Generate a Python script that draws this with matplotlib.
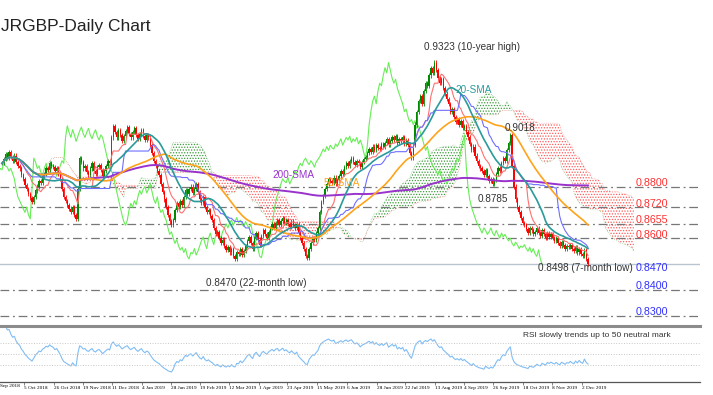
import numpy as np
import pandas as pd
from matplotlib import pyplot as plt

# daily closes, Sep 2018 - Dec 2019
closes = [
    .8890, .8905, .8925, .8910, .8935, .8915, .8900, .8920, .8895, .8880, .8870,
    .8845, .8830, .8805, .8790,
    .8770, .8755, .8740, .8760,
    .8785, .8800, .8820, .8815, .8840,
    .8850, .8870, .8865, .8890, .8880, .8875,
    .8860, .8870, .8850, .8830,
    .8790, .8760, .8745, .8730,
    .8715, .8700, .8720, .8690, .8675,
    .8790, .8910,
    .8895, .8870, .8880, .8855, .8845, .8870, .8890, .8860, .8850, .8875,
    .8885, .8865, .8840, .8860, .8880, .8900, .8890,
    .8990, .9035,
    .9010, .8990, .9020, .9000, .8975, .8995, .9015, .9030, .9005, .8990, .9010, .9025, .9000,
    .8985, .9005, .9020, .8995, .8980, .9000, .8990,
    .8960, .8930, .8900, .8880, .8860, .8845,
    .8810, .8780, .8750, .8720, .8690, .8665, .8650, .8670,
    .8710, .8735, .8720, .8745, .8730,
    .8760, .8785, .8770, .8790, .8800, .8775, .8790, .8810, .8780,
    .8750, .8735, .8760, .8720, .8700, .8710, .8685, .8670,
    .8640, .8615, .8625, .8600, .8580, .8595, .8570, .8555, .8565,
    .8545, .8560, .8530, .8520, .8545,
    .8540, .8560, .8535, .8550, .8570,
    .8590, .8605, .8580, .8560, .8600, .8620, .8595, .8575, .8610, .8630, .8615, .8600,
    .8625, .8640, .8655, .8640, .8660, .8670, .8650, .8665, .8680,
    .8660, .8670, .8655, .8645, .8665, .8650, .8640, .8655,
    .8620, .8600, .8580, .8560,
    .8530, .8525,
    .8560, .8580, .8600, .8595, .8620, .8640,
    .8700, .8740, .8765, .8790, .8810, .8830,
    .8820, .8815, .8835, .8810, .8825, .8840,
    .8860, .8850, .8875, .8890, .8880, .8900, .8910, .8895,
    .8885, .8900, .8890, .8875, .8895, .8905, .8915,
    .8930, .8945, .8935, .8955, .8940, .8960, .8950, .8945, .8965, .8955,
    .8970, .8985, .8960, .8975, .8990, .8980, .8995, .8970, .8985,
    .8975, .8990, .8965, .8980, .8960,
    .8930, .8910, .8960,
    .9040, .9090, .9130,
    .9150, .9120, .9170, .9200, .9190, .9230,
    .9260, .9240, .9280, .9250,
    .9220, .9200, .9215, .9180, .9160,
    .9140, .9120, .9090, .9100, .9070, .9050,
    .9060, .9040, .9055, .9025, .9035, .9010,
    .8990, .8965, .8940, .8955, .8920, .8900, .8880, .8870,
    .8860, .8845, .8865, .8840, .8820, .8830, .8810, .8825,
    .8850, .8870, .8860, .8890, .8910, .8900, .8940, .8970,
    .9000,
    .8880, .8800, .8750,
    .8720, .8700, .8680, .8660, .8650, .8635, .8620,
    .8640, .8630, .8615, .8625, .8640, .8620, .8610, .8630, .8615, .8600, .8620, .8605, .8615, .8600,
    .8590, .8600, .8580, .8570, .8585, .8575, .8560, .8570, .8565,
    .8575, .8560, .8550, .8565, .8545, .8560, .8540, .8530, .8555, .8520, .8500,
]

red_levels = [0.8800, 0.8720, 0.8655, 0.8600]
blue_levels = [0.8470, 0.8400, 0.8300]
dashed_levels = [0.8800, 0.8720, 0.8655, 0.8600, 0.8400, 0.8300]

date_ticks = [12.5, 29.5, 45.9, 62.3, 79.3, 95.8, 112.2, 128.6, 145.6, 161.5,
              178.5, 195.5, 212.5, 228.3, 245.3, 261.8, 278.2, 295.2, 311.6, 328.6]
date_labels = ['5 Oct 2018', '26 Oct 2018', '19 Nov 2018', '11 Dec 2018', '4 Jan 2019',
               '28 Jan 2019', '19 Feb 2019', '12 Mar 2019', '1 Apr 2019', '23 Apr 2019',
               '15 May 2019', '6 Jun 2019', '28 Jun 2019', '22 Jul 2019', '13 Aug 2019',
               '4 Sep 2019', '26 Sep 2019', '18 Oct 2019', '8 Nov 2019', '2 Dec 2019']

plt.rcParams['font.family'] = ['Liberation Sans', 'DejaVu Sans']
plt.rcParams['hatch.linewidth'] = 0.6

# ---- indicators
n = len(closes)
idx = np.arange(n)
c = pd.Series(closes)
o = c.shift(1).fillna(c.iloc[0])
hi = np.maximum(o, c)
lo = np.minimum(o, c)


def mid(p):
    return (hi.rolling(p, min_periods=1).max() + lo.rolling(p, min_periods=1).min()) / 2


tenkan = mid(9)
kijun = mid(26)
span_a = (tenkan + kijun) / 2
span_b = mid(52)
sx = idx + 26

sma20 = c.rolling(20, min_periods=1).mean()
sma50 = c.rolling(50, min_periods=1).mean()
sma200 = c.rolling(200, min_periods=1).mean()

d = c.diff()
up = d.clip(lower=0).ewm(alpha=1 / 14, adjust=False).mean()
dn = (-d.clip(upper=0)).ewm(alpha=1 / 14, adjust=False).mean()
rsi = 100 - 100 / (1 + up / dn)

# ---- figure
pxb = 1.765  # pixels per bar
W, H = 713, 395
fig = plt.figure(figsize=(W / 100, H / 100), dpi=100)
ax = fig.add_axes([0, (H - 323) / H, 700 / W, (323 - 8) / H])
xl = (-2 / pxb, 698 / pxb)
ax.set_xlim(*xl)
ax.set_ylim(0.8272, 0.9491)
ax.axis('off')

# cloud
ax.fill_between(sx, span_a, span_b, where=span_a >= span_b, interpolate=True,
                facecolor='none', edgecolor='#3a9a3a', hatch='......', lw=0, zorder=1)
ax.fill_between(sx, span_a, span_b, where=span_a < span_b, interpolate=True,
                facecolor='none', edgecolor='#ff5a5a', hatch='......', lw=0, zorder=1)
ax.plot(sx, span_a, color='#8fd08f', lw=0.5, ls=':', zorder=1)
ax.plot(sx, span_b, color='#ff9a9a', lw=0.5, ls=':', zorder=1)

for lv in dashed_levels:
    ax.axhline(lv, color='#777777', lw=0.9, ls=(0, (7, 3, 1.5, 3)), zorder=1.5)
ax.axhline(closes[-1], color='#b8c4d0', lw=1.0, zorder=1.5)

# chikou
ax.plot(idx - 26, c, color='#66ee55', lw=0.8, zorder=2)

# candles
cols = np.where(c >= o, '#008a00', '#ff0000')
wick = 0.0008
ax.vlines(idx, lo - wick, hi + wick, colors=cols, lw=0.6, zorder=3)
ax.bar(idx, np.maximum(hi - lo, 0.00025), bottom=lo, width=0.75, color=cols, lw=0, zorder=3)

ax.plot(idx, tenkan, color='#ff7070', lw=0.8, zorder=4)
ax.plot(idx, kijun, color='#6f6fff', lw=0.8, zorder=4)
ax.plot(idx, sma200, color='#9a33cc', lw=1.4, zorder=5)
ax.plot(idx, sma50, color='#ffa31a', lw=1.2, zorder=5)
ax.plot(idx, sma20, color='#2a9a9a', lw=1.2, zorder=5)

# annotations
fs = 7.2
ax.text(239, 0.9339, '0.9323 (10-year high)', fontsize=fs, color='#333333', va='center')
ax.text(256.7, 0.9172, '20-SMA', fontsize=fs, color='#2a9a9a', va='center', zorder=6)
ax.text(285, 0.9025, '0.9018', fontsize=fs, color='#333333', va='center', zorder=6)
ax.text(153, 0.8843, '200-SMA', fontsize=fs, color='#9a33cc', va='center', zorder=6)
ax.text(182, 0.8812, '50-SMA', fontsize=fs, color='#ffa31a', va='center', zorder=6)
ax.text(269.7, 0.8753, '0.8785', fontsize=fs, color='#333333', va='center', zorder=6)
ax.text(303.7, 0.8486, '0.8498 (7-month low)', fontsize=fs, color='#333333', va='center', zorder=6)
ax.text(115.6, 0.8428, '0.8470 (22-month low)', fontsize=fs, color='#333333', va='center', zorder=6)
for lv in red_levels:
    ax.text(359.2, lv + 0.0014, f'{lv:.4f}', fontsize=7.7, color='#ff3030', va='center')
for lv in blue_levels:
    ax.text(359.2, lv + 0.0014, f'{lv:.4f}', fontsize=7.7, color='#3030ff', va='center')

fig.text(0.001, (H - 27) / H, 'JRGBP-Daily Chart', fontsize=12.5,
         color='#222222', va='center', ha='left')

# ---- RSI panel
rax = fig.add_axes([0, (H - 382) / H, 700 / W, (382 - 326) / H])
rax.set_xlim(*xl)
rax.set_ylim(0, 100)
rax.plot(idx, rsi, color='#80bdf5', lw=0.8)
for lv in [70, 50, 30]:
    rax.axhline(lv, color='#c8c8c8', lw=0.7, ls=':')
rax.text(295.2, 83, 'RSI slowly trends up to 50 neutral mark', fontsize=6, color='#333333', va='center')
for s in ['left', 'right']:
    rax.spines[s].set_visible(False)
rax.spines['top'].set_color('#8c8c8c')
rax.spines['top'].set_linewidth(2.2)
rax.spines['bottom'].set_color('#555555')
rax.spines['bottom'].set_linewidth(0.9)
rax.set_yticks([])
rax.set_xticks(date_ticks)
rax.set_xticklabels(date_labels, fontsize=3.8, family='Liberation Serif')
for lbl in rax.get_xticklabels():
    lbl.set_ha('left')
rax.tick_params(axis='x', length=2, width=0.5, pad=1, color='#555555')
fig.text(0.0, (H - 386.5) / H, 'Sep 2018', fontsize=3.8, family='Liberation Serif', va='center')

fig.savefig('out.png', dpi=100)
